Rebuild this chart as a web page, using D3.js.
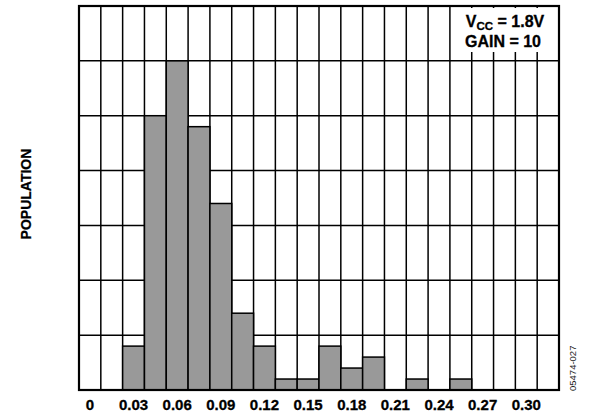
<!DOCTYPE html>
<html>
<head>
<meta charset="utf-8">
<script src="https://cdn.jsdelivr.net/npm/d3@7"></script>
<style>
  body { margin: 0; background: #fff; }
  svg { display: block; font-family: "Liberation Sans", Arial, sans-serif; }
</style>
</head>
<body>
<div id="chart"></div>
<script>
// histogram bins are 0.015 wide, 22 of them from 0 to 0.33
var binStarts = d3.range(22).map(function (i) { return +(i * 0.015).toFixed(3); });
var counts = [0, 0, 4, 25, 30, 24, 17, 7, 4, 1, 1, 4, 2, 3, 0, 1, 0, 1, 0, 0, 0, 0];
var tickLabels = ["0", "0.03", "0.06", "0.09", "0.12", "0.15", "0.18", "0.21", "0.24", "0.27", "0.30"];
var yGrid = [5, 10, 15, 20, 25, 30];

var width = 591, height = 416;
var margin = {top: 6, right: 32, bottom: 26, left: 79};

var svg = d3.select("#chart").append("svg")
    .attr("width", width)
    .attr("height", height);

var x = d3.scaleBand()
    .domain(d3.range(binStarts.length))
    .range([margin.left, width - margin.right])
    .padding(0);

var y = d3.scaleLinear()
    .domain([0, 35])
    .range([height - margin.bottom, margin.top]);

var g = svg.append("g");

// vertical grid, one line per bin edge
g.selectAll("line.vgrid")
  .data(d3.range(1, binStarts.length))
  .join("line")
    .attr("class", "vgrid")
    .attr("x1", d => x(d)).attr("x2", d => x(d))
    .attr("y1", y(35)).attr("y2", y(0))
    .attr("stroke", "#000")
    .attr("stroke-width", 1.5);

g.selectAll("line.hgrid")
  .data(yGrid)
  .join("line")
    .attr("class", "hgrid")
    .attr("x1", x.range()[0]).attr("x2", x.range()[1])
    .attr("y1", d => y(d)).attr("y2", d => y(d))
    .attr("stroke", "#000")
    .attr("stroke-width", 1.5);

// bars
g.selectAll("rect.bar")
  .data(counts.map((c, i) => ({i: i, c: c})).filter(d => d.c > 0))
  .join("rect")
    .attr("class", "bar")
    .attr("x", d => x(d.i))
    .attr("y", d => y(d.c))
    .attr("width", x.bandwidth())
    .attr("height", d => y(0) - y(d.c))
    .attr("fill", "#999999")
    .attr("stroke", "#000")
    .attr("stroke-width", 1.5);

// annotation box covers the grid behind it
svg.append("rect")
    .attr("x", 461).attr("y", 8)
    .attr("width", 88).attr("height", 44)
    .attr("fill", "#fff");

var note = svg.append("text")
    .attr("x", 505).attr("y", 26.5)
    .attr("text-anchor", "middle")
    .attr("font-weight", "bold")
    .attr("font-size", 16)
    .attr("fill", "#000")
    .attr("stroke", "#000").attr("stroke-width", 0.3);
note.append("tspan").text("V");
note.append("tspan").attr("font-size", 11.5).attr("dy", 3).text("CC");
note.append("tspan").attr("dy", -3).text(" = 1.8V");

svg.append("text")
    .attr("x", 503).attr("y", 46.5)
    .attr("text-anchor", "middle")
    .attr("font-weight", "bold")
    .attr("font-size", 16)
    .attr("fill", "#000")
    .attr("stroke", "#000").attr("stroke-width", 0.3)
    .text("GAIN = 10");

// frame
svg.append("rect")
    .attr("x", x.range()[0]).attr("y", y(35))
    .attr("width", x.range()[1] - x.range()[0])
    .attr("height", y(0) - y(35))
    .attr("fill", "none")
    .attr("stroke", "#000")
    .attr("stroke-width", 2.2);

// x tick labels sit under every second bin
svg.selectAll("text.tick")
  .data(tickLabels)
  .join("text")
    .attr("class", "tick")
    .attr("x", (d, i) => x(i * 2) + x.bandwidth() / 2)
    .attr("y", 410)
    .attr("text-anchor", "middle")
    .attr("font-weight", "bold")
    .attr("font-size", 15)
    .attr("fill", "#000")
    .attr("stroke", "#000").attr("stroke-width", 0.3)
    .text(d => d);

svg.append("text")
    .attr("transform", "translate(31," + ((y(0) + y(35)) / 2 - 4) + ") rotate(-90)")
    .attr("text-anchor", "middle")
    .attr("font-weight", "bold")
    .attr("font-size", 14)
    .attr("fill", "#000")
    .attr("stroke", "#000").attr("stroke-width", 0.25)
    .text("POPULATION");

svg.append("text")
    .attr("transform", "translate(576,391) rotate(-90)")
    .attr("font-size", 9.5)
    .attr("fill", "#222")
    .text("05474-027");
</script>
</body>
</html>
